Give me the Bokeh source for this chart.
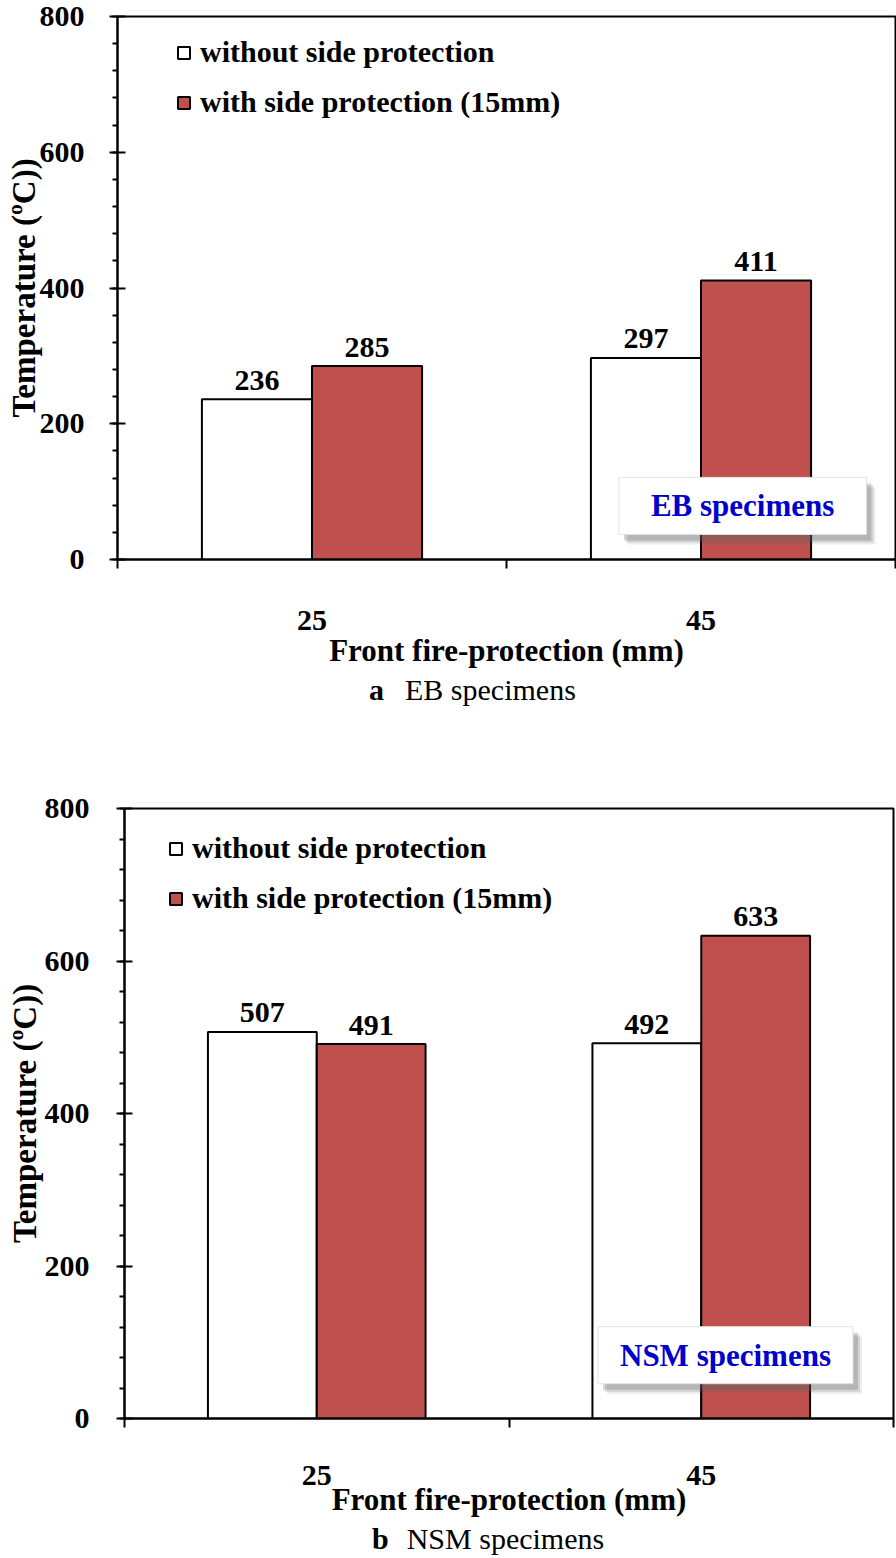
from bokeh.plotting import figure
from bokeh.models import (ColumnDataSource, Range1d, FixedTicker, SingleIntervalTicker,
                          Legend, LegendItem, Label, Div)
from bokeh.transform import dodge
from bokeh.layouts import column
from bokeh.embed import file_html
from bokeh.resources import INLINE
from bokeh.core.properties import value

# ---------------- data ----------------
categories = ["25", "45"]
eb_without = [236, 297]
eb_with = [285, 411]
nsm_without = [507, 492]
nsm_with = [491, 633]
series_names = ["without side protection", "with side protection (15mm)"]
y_label = "Temperature (ºC))"
x_label = "Front fire-protection (mm)"
panel_letters = ["a", "b"]
panel_names = ["EB specimens", "NSM specimens"]

FONT = "Liberation Serif"
RED = "#C0504D"
BLUE = "#0000CC"
BAR_W = 0.283


def make_chart(without, with_, name, cfg):
    n = len(categories)
    xs = [i + 0.5 for i in range(n)]
    src = ColumnDataSource(dict(x=xs, without=without, with_=with_,
                                lw=[str(v) for v in without],
                                lp=[str(v) for v in with_]))
    p = figure(width=cfg["width"], height=cfg["height"],
               x_range=Range1d(0, n), y_range=Range1d(0, 800),
               output_backend="svg", toolbar_location=None,
               min_border_left=cfg["bl"], min_border_right=cfg["br"],
               min_border_top=cfg["bt"], min_border_bottom=cfg["bb"])
    p.grid.visible = False
    p.background_fill_color = "white"
    p.border_fill_color = "white"
    p.outline_line_color = "black"
    p.outline_line_width = 2
    p.outline_line_alpha = 1

    r1 = p.vbar(x=dodge("x", -BAR_W / 2), top="without", width=BAR_W, source=src,
                fill_color="white", line_color="black", line_width=2)
    r2 = p.vbar(x=dodge("x", BAR_W / 2), top="with_", width=BAR_W, source=src,
                fill_color=RED, line_color="black", line_width=2)
    for field, lab, off in [("without", "lw", -BAR_W / 2), ("with_", "lp", BAR_W / 2)]:
        p.text(x=dodge("x", off), y=field, text=lab, source=src,
               text_align="center", text_baseline="alphabetic", y_offset=-19,
               text_font=value(FONT), text_font_style="bold",
               text_font_size="30px", text_color="black")

    # y axis
    ya = p.yaxis[0]
    ya.ticker = SingleIntervalTicker(interval=200, num_minor_ticks=5)
    ya.axis_line_width = 2
    ya.major_tick_in = 8
    ya.major_tick_out = 8
    ya.major_tick_line_width = 2
    ya.minor_tick_in = 0
    ya.minor_tick_out = 5
    ya.minor_tick_line_width = 2
    ya.major_label_text_font = FONT
    ya.major_label_text_font_style = "bold"
    ya.major_label_text_font_size = "30px"
    ya.major_label_text_color = "black"
    ya.major_label_standoff = cfg["ystand"]
    ya.axis_label = y_label
    ya.axis_label_text_font = FONT
    ya.axis_label_text_font_style = "bold"
    ya.axis_label_text_font_size = "33px"
    ya.axis_label_text_color = "black"
    ya.axis_label_standoff = cfg["ylstand"]

    # x axis: labels at category centres, ticks at category boundaries
    xa = p.xaxis[0]
    xa.ticker = FixedTicker(ticks=xs, minor_ticks=list(range(n + 1)))
    xa.major_label_overrides = {x: c for x, c in zip(xs, categories)}
    xa.axis_line_width = 2
    xa.major_tick_in = 0
    xa.major_tick_out = 0
    xa.minor_tick_in = 0
    xa.minor_tick_out = 9
    xa.minor_tick_line_width = 2
    xa.major_label_text_font = FONT
    xa.major_label_text_font_style = "bold"
    xa.major_label_text_font_size = "30px"
    xa.major_label_text_color = "black"
    xa.major_label_standoff = cfg["xstand"]
    xa.axis_label = x_label
    xa.axis_label_text_font = FONT
    xa.axis_label_text_font_style = "bold"
    xa.axis_label_text_font_size = "31px"
    xa.axis_label_text_color = "black"
    xa.axis_label_standoff = cfg["xlstand"]

    # legend
    legend = Legend(items=[LegendItem(label=series_names[0], renderers=[r1]),
                           LegendItem(label=series_names[1], renderers=[r2])],
                    location=(cfg["leg_x"], cfg["leg_y"]),
                    border_line_alpha=0, background_fill_alpha=0,
                    label_text_font=FONT, label_text_font_style="bold",
                    label_text_font_size="30px", label_text_color="black",
                    label_standoff=9, spacing=cfg["leg_sp"], padding=0, margin=0,
                    glyph_width=15, glyph_height=15)
    p.add_layout(legend)

    # specimen box with soft shadow
    pad = dict(left=cfg["box_px"], right=cfg["box_px"], top=11, bottom=11)
    for dx, dy, a in [(9, -10, 0.12), (7, -8, 0.18), (5, -6, 0.25)]:
        p.add_layout(Label(x=cfg["box_x"], y=cfg["box_y"], x_offset=dx, y_offset=dy,
                           text=name, text_align="center", text_baseline="middle",
                           text_font=FONT, text_font_style="bold", text_font_size="31px",
                           text_color="#606060", text_alpha=0.01,
                           background_fill_color="#606060",
                           background_fill_alpha=a, padding=pad))
    p.add_layout(Label(x=cfg["box_x"], y=cfg["box_y"],
                       text=name, text_align="center", text_baseline="middle",
                       text_font=FONT, text_font_style="bold", text_font_size="31px",
                       text_color=BLUE, background_fill_color="white",
                       background_fill_alpha=1, border_line_color="#e3e3e3",
                       border_line_width=1, padding=pad))
    return p


def make_caption(letter, name, cfg):
    html = ('<span style="font-weight:bold">%s</span>'
            '<span style="margin-left:%dpx">%s</span>') % (letter, cfg["cap_gap"], name)
    return Div(text=html, width=cfg["width"], height=cfg["cap_h"], margin=0,
               styles={"font-family": FONT, "font-size": "30px",
                       "line-height": "%dpx" % cfg["cap_h"],
                       "padding-left": "%dpx" % cfg["cap_x"],
                       "color": "black", "white-space": "nowrap",
                       "box-sizing": "border-box"})


cfg_a = dict(width=896, height=670, bl=117, br=1, bt=16, bb=111,
             ystand=25, ylstand=-5,
             xstand=42, xlstand=0, leg_x=59, leg_y=440, leg_sp=16,
             box_x=1.607, box_y=79, box_px=32,
             cap_x=369, cap_gap=21, cap_h=40)
cfg_b = dict(width=896, height=810, bl=124, br=3, bt=98, bb=102,
             ystand=27, ylstand=-1,
             xstand=38, xlstand=-6, leg_x=44, leg_y=503, leg_sp=16,
             box_x=1.563, box_y=83, box_px=22,
             cap_x=372, cap_gap=18, cap_h=38)

pa = make_chart(eb_without, eb_with, panel_names[0], cfg_a)
ca = make_caption(panel_letters[0], panel_names[0], cfg_a)
pb = make_chart(nsm_without, nsm_with, panel_names[1], cfg_b)
cb = make_caption(panel_letters[1], panel_names[1], cfg_b)

# separate sub-columns so the two charts keep their own frame positions
layout = column(column(pa, ca, spacing=0), column(pb, cb, spacing=0), spacing=0)
open("out.html", "w").write(file_html(layout, INLINE))
